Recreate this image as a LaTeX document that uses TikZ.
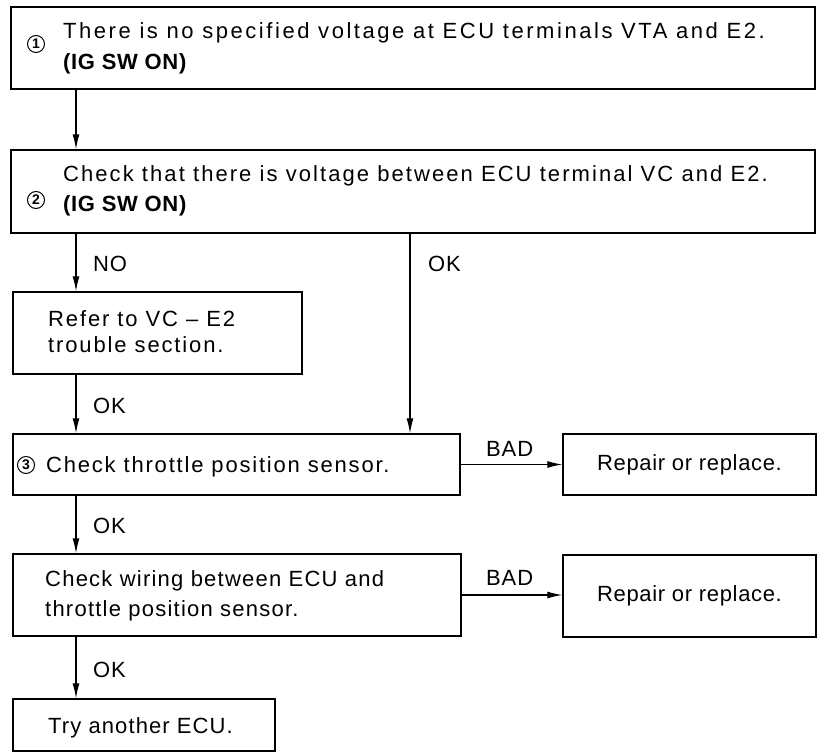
\documentclass[tikz,border=0pt]{standalone}
\usepackage{fontspec}
\setmainfont{Liberation Sans}
\usetikzlibrary{arrows.meta}
\newcommand\lsp[1]{\addfontfeature{LetterSpace=#1}}
\begin{document}
\begin{tikzpicture}[x=1pt,y=-1pt,
  font=\fontsize{22}{31}\selectfont,
  box/.style={draw, rectangle, line width=1.5pt, inner sep=0pt},
  txt/.style={inner sep=0pt, align=left},
  lab/.style={inner sep=0pt, anchor=base west, font=\fontsize{22}{26}\selectfont\lsp{4}},
  num/.style={circle, draw, line width=1pt, inner sep=0pt, minimum size=17pt,
              font=\fontsize{14}{14}\selectfont\bfseries},
  arr/.style={line width=1.1pt, -{Latex[length=15pt,width=7pt]}}]
\useasboundingbox (0,0) rectangle (819,752);

% boxes
\node[box, minimum width=804pt, minimum height=82pt] (b1) at (413,48) {};
\node[box, minimum width=804pt, minimum height=83pt] (b2) at (413,191.5) {};
\node[box, minimum width=289pt, minimum height=82pt] (bref) at (157.5,333) {};
\node[box, minimum width=447pt, minimum height=61pt] (b3) at (236.5,464.5) {};
\node[box, minimum width=253pt, minimum height=61pt, font=\fontsize{22}{26}\selectfont\lsp{3}] (r1) at (689.5,464.5) {Repair or replace.};
\node[box, minimum width=448pt, minimum height=82pt] (b4) at (237,595) {};
\node[box, minimum width=253pt, minimum height=82pt, font=\fontsize{22}{26}\selectfont\lsp{3}] (r2) at (689.5,596) {Repair or replace.};
\node[box, minimum width=262pt, minimum height=52pt] (b5) at (144,725) {};

% circled numbers
\node[num] (n1) at (36,44) {1};
\node[num] (n2) at (36,200) {2};
\node[num] (n3) at (26,465) {3};

% texts
\node[txt, anchor=west, font=\fontsize{22}{31}\selectfont\lsp{11.6}] (t1) at (63,48) {There is no specified voltage at ECU terminals VTA and E2.\\\textbf{\lsp{3}(IG SW ON)}};
\node[txt, anchor=west, font=\fontsize{22}{30}\selectfont\lsp{9.4}] (t2) at (63,191) {Check that there is voltage between ECU terminal VC and E2.\\\textbf{\lsp{3}(IG SW ON)}};
\node[txt, anchor=west, font=\fontsize{22}{26}\selectfont\lsp{8.5}] (tref) at (48,331.5) {Refer to VC -- E2\\trouble section.};
\node[lab, font=\fontsize{22}{26}\selectfont\lsp{8.2}] (t3) at (46,472) {Check throttle position sensor.};
\node[txt, anchor=west, font=\fontsize{22}{30}\selectfont\lsp{5.6}] (t4) at (45,596) {Check wiring between ECU and\\throttle position sensor.};
\node[lab, font=\fontsize{22}{26}\selectfont\lsp{5}] (t5) at (48,733) {Try another ECU.};

% connectors
\coordinate (cx) at (76,0);
\coordinate (okx) at (410,0);
\draw[arr] (b1.south -| cx) -- (b2.north -| cx);
\draw[arr] (b2.south -| cx) -- (bref.north -| cx);
\draw[arr] (b2.south -| okx) -- (b3.north -| okx);
\draw[arr] (bref.south -| cx) -- (b3.north -| cx);
\draw[arr] (b3.south -| cx) -- (b4.north -| cx);
\draw[arr] (b4.south -| cx) -- (b5.north -| cx);
\draw[arr] (b3.east) -- (r1.west);
\draw[arr] (b4.east) -- (r2.west |- b4.east);

% labels
\node[lab] (lno) at (93,271) {NO};
\node[lab] (lok1) at (428,271) {OK};
\node[lab] (lok2) at (93,413) {OK};
\node[lab] (lok3) at (93,533) {OK};
\node[lab] (lok4) at (93,677) {OK};
\node[lab] (lbad1) at (486,456) {BAD};
\node[lab] (lbad2) at (486,585) {BAD};
\end{tikzpicture}
\end{document}
